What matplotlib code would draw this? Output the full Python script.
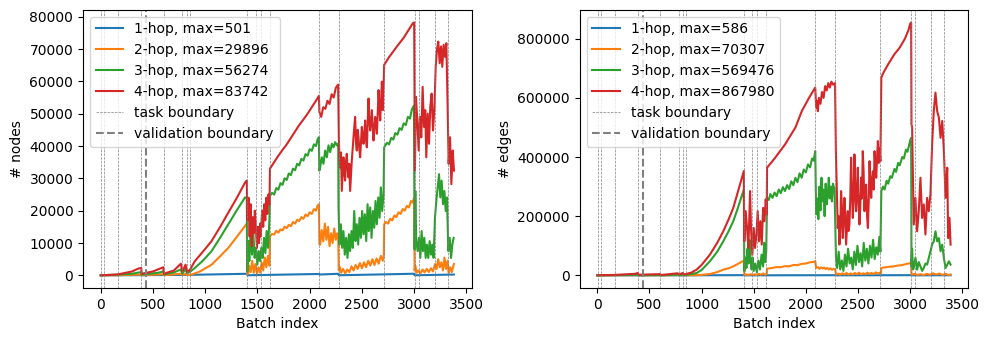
import numpy as np
import matplotlib
matplotlib.use("Agg")
import matplotlib.pyplot as plt

# task / validation boundaries (batch index)
task_bounds = [3, 32, 166, 390, 605, 782, 825, 854, 1402, 1483, 1530, 1622,
               2092, 2276, 2715, 3004, 3045, 3200, 3327]
val_bound = 434

# ---- nodes (left panel), (batch, value) ----
nodes_1hop = [(0, 0), (400, 60), (850, 150), (1400, 480), (1403, 20), (1620, 150),
              (2090, 420), (2093, 250), (2275, 480), (2278, 30), (2713, 300),
              (3000, 501), (3004, 20), (3380, 250)]

nodes_2hop = [(0, 0), (160, 40), (380, 250), (392, 30), (595, 350), (606, 40), (770, 500),
              (782, 100), (815, 450), (826, 80), (855, 150), (870, 250), (950, 1200),
              (1061, 3300), (1140, 5800), (1221, 8500), (1300, 11800), (1398, 16000),
              (1403, 300), (1410, 500), (1420, 3000), (1435, 1000), (1450, 4500), (1465, 800),
              (1480, 3500), (1495, 600), (1510, 2500), (1525, 800), (1540, 4000), (1555, 1500),
              (1570, 5500), (1585, 2500), (1600, 6000), (1615, 3000),
              (1620, 12100), (1640, 12800), (1660, 12600), (1680, 13800), (1700, 13200),
              (1720, 14200), (1740, 13900), (1760, 15000), (1780, 14600), (1800, 15600),
              (1820, 15200), (1840, 16500), (1860, 16000), (1880, 17200), (1900, 16800),
              (1920, 18000), (1940, 17500), (1960, 18800), (1980, 18300), (2000, 19500),
              (2020, 19000), (2040, 20500), (2060, 20000), (2075, 21500), (2088, 22000),
              (2093, 9500), (2100, 9500), (2115, 14000), (2130, 10500), (2145, 16000),
              (2160, 11000), (2175, 15000), (2190, 9000), (2205, 13000), (2220, 10000),
              (2235, 14500), (2250, 11000), (2265, 13000), (2273, 12000),
              (2278, 1500), (2290, 2500), (2300, 800), (2320, 2000), (2340, 600), (2360, 1800),
              (2380, 1000), (2400, 2800), (2420, 1500), (2440, 3200), (2460, 2000), (2480, 3800),
              (2500, 2200), (2520, 4000), (2540, 2500), (2560, 4500), (2580, 3000), (2600, 5000),
              (2620, 3200), (2640, 5200), (2660, 3600), (2680, 6000), (2700, 4500), (2710, 6500),
              (2713, 15800), (2730, 16500), (2750, 16000), (2770, 17500), (2790, 17000),
              (2810, 18500), (2830, 18000), (2850, 19500), (2870, 19000), (2890, 20500),
              (2910, 20000), (2930, 21500), (2950, 21000), (2970, 23000), (2985, 22500),
              (3000, 24000),
              (3004, 1500), (3010, 3000), (3025, 800), (3040, 1500), (3060, 600), (3080, 1800),
              (3100, 900), (3120, 2000), (3140, 1000), (3160, 2200), (3180, 1200), (3200, 3500),
              (3215, 2000), (3230, 5000), (3245, 2500), (3260, 4000), (3275, 1500), (3290, 5500),
              (3305, 2000), (3320, 4500), (3330, 800), (3345, 2500), (3360, 1000), (3380, 3500)]

nodes_3hop = [(0, 0), (30, 50), (165, 200), (300, 500), (385, 1000), (392, 200), (550, 800),
              (600, 1200), (607, 300), (700, 900), (765, 1800), (782, 500), (810, 2000),
              (826, 700), (855, 1100), (901, 2300), (980, 4600), (1061, 7500), (1140, 11500),
              (1221, 15800), (1300, 20000), (1381, 24100), (1398, 24000),
              (1403, 1200), (1413, 10600), (1422, 4400), (1435, 14000), (1448, 6400),
              (1461, 12700), (1473, 5400), (1486, 8500), (1499, 3300), (1512, 7500),
              (1525, 4400), (1537, 8500), (1550, 5400), (1563, 11600), (1576, 6900),
              (1588, 13700), (1601, 8500), (1614, 16800),
              (1620, 24600), (1640, 25500), (1660, 25000), (1680, 27000), (1700, 26500),
              (1720, 28500), (1740, 28000), (1760, 30000), (1780, 29500), (1800, 31500),
              (1820, 31000), (1840, 33000), (1860, 32500), (1880, 34500), (1900, 34000),
              (1920, 36000), (1940, 35500), (1960, 37500), (1980, 37000), (2000, 39000),
              (2020, 38500), (2040, 40500), (2060, 40000), (2075, 42000), (2088, 42700),
              (2092, 32400), (2100, 33400), (2116, 36500), (2132, 34500), (2148, 38600),
              (2164, 36500), (2180, 40200), (2196, 38100), (2212, 40700), (2228, 39600),
              (2244, 41200), (2260, 40200), (2273, 40700),
              (2276, 21000), (2285, 9500), (2298, 15800), (2311, 8500), (2323, 13700),
              (2336, 6400), (2349, 11600), (2362, 5400), (2375, 12700), (2387, 7500),
              (2400, 13700), (2413, 8500), (2426, 19900), (2439, 10600), (2451, 15800),
              (2464, 9500), (2477, 17800), (2490, 11600), (2502, 19900), (2515, 12700),
              (2528, 18900), (2541, 10600), (2554, 22000), (2566, 13700), (2579, 21000),
              (2592, 11600), (2605, 19900), (2618, 14700), (2630, 23000), (2643, 15800),
              (2656, 24100), (2669, 17800), (2681, 27200), (2694, 19900), (2707, 25100),
              (2713, 39600), (2740, 41000), (2760, 40500), (2780, 42500), (2800, 42000),
              (2820, 44000), (2840, 43500), (2860, 45500), (2880, 45000), (2900, 47000),
              (2920, 46500), (2940, 49000), (2960, 48500), (2980, 51500), (2998, 52500),
              (3004, 8000), (3011, 26100), (3020, 10600), (3033, 7500), (3046, 11600),
              (3059, 5400), (3071, 13700), (3084, 7500), (3097, 11600), (3110, 5400),
              (3122, 9500), (3135, 5400), (3148, 10600), (3161, 6400), (3174, 9500),
              (3186, 5400), (3199, 17800), (3212, 23000), (3225, 27200), (3238, 31300),
              (3250, 24100), (3263, 29300), (3276, 22000), (3289, 26100), (3302, 19900),
              (3314, 24100), (3327, 7500), (3340, 11600), (3353, 5400), (3365, 9500),
              (3378, 11600)]

nodes_4hop = [(0, 0), (30, 50), (165, 300), (300, 1200), (360, 2100), (388, 2300), (392, 500),
              (500, 1200), (598, 2500), (605, 500), (700, 1500), (767, 3600), (780, 1200),
              (812, 3300), (826, 1000), (855, 1800), (901, 4400), (980, 7400), (1061, 10600),
              (1140, 14800), (1221, 19400), (1300, 23800), (1381, 28700), (1398, 29300),
              (1403, 17000), (1415, 24000), (1425, 12000), (1435, 22000), (1445, 9000),
              (1455, 18000), (1465, 13000), (1475, 20000), (1486, 14000), (1495, 8500),
              (1505, 15000), (1515, 10000), (1525, 16000), (1531, 12000), (1545, 20000),
              (1555, 15000), (1565, 22000), (1575, 17000), (1585, 24000), (1595, 19000),
              (1605, 25000), (1615, 22000),
              (1620, 33000), (1660, 35000), (1700, 37000), (1740, 38800), (1780, 40500),
              (1820, 42500), (1860, 44500), (1900, 46500), (1940, 48200), (1980, 50000),
              (2020, 52000), (2060, 54000), (2088, 55500),
              (2093, 50500), (2110, 49000), (2130, 52000), (2150, 51500), (2170, 54000),
              (2190, 53000), (2210, 56000), (2230, 55000), (2250, 58000), (2272, 59000),
              (2279, 42700), (2285, 36000), (2292, 33400), (2300, 38000), (2307, 26100),
              (2315, 31000), (2323, 36500), (2331, 32000), (2339, 29300), (2347, 35000),
              (2355, 37600), (2363, 33000), (2371, 30300), (2379, 34500), (2387, 26100),
              (2395, 31000), (2403, 35500), (2411, 39000), (2419, 42700), (2427, 46000),
              (2435, 49000), (2443, 41000), (2451, 38600), (2459, 45000), (2467, 42700),
              (2475, 39000), (2483, 36500), (2491, 41000), (2499, 45900), (2507, 43000),
              (2515, 40700), (2523, 44000), (2531, 47900), (2539, 42000), (2547, 39600),
              (2555, 47000), (2563, 54700), (2571, 48000), (2579, 44800), (2587, 47500),
              (2595, 51100), (2603, 46000), (2611, 41700), (2619, 45500), (2627, 49000),
              (2635, 47000), (2643, 43800), (2651, 50000), (2659, 57300), (2667, 52000),
              (2675, 47900), (2683, 54000), (2691, 59900), (2696, 54000), (2700, 51100),
              (2705, 57000), (2710, 61400),
              (2713, 65100), (2760, 67500), (2835, 70800), (2900, 73500), (2988, 78000),
              (3000, 78200),
              (3007, 32400), (3017, 55200), (3030, 47900), (3043, 38600), (3055, 49000),
              (3068, 42700), (3081, 58300), (3094, 45900), (3106, 51100), (3116, 36500),
              (3129, 50000), (3142, 40700), (3154, 52100), (3167, 56200), (3180, 44800),
              (3193, 51100), (3206, 64500), (3218, 69700), (3231, 72300), (3244, 65600),
              (3257, 70800), (3269, 64500), (3282, 71300), (3295, 67600), (3308, 71800),
              (3321, 51100), (3330, 34500), (3343, 42700), (3356, 28200), (3369, 38600),
              (3381, 32400)]

# ---- edges (right panel), (batch, value) ----
edges_1hop = [(0, 0), (850, 100), (1400, 580), (1410, 30), (2090, 400), (2099, 200),
              (2285, 500), (2289, 20), (3010, 586), (3013, 20), (3388, 300)]

edges_2hop = [(0, 0), (390, 800), (395, 100), (600, 600), (610, 100), (780, 1200), (785, 200),
              (855, 500), (950, 800), (1000, 1500), (1080, 4500), (1150, 11000), (1208, 19300),
              (1260, 24000), (1304, 30500), (1350, 39000), (1405, 49800),
              (1410, 1500), (1430, 3000), (1450, 1000), (1470, 4000), (1490, 1500), (1510, 3500),
              (1530, 1000), (1550, 5000), (1570, 2000), (1590, 6000), (1610, 2500), (1625, 5000),
              (1628, 22600), (1680, 25000), (1720, 28000), (1760, 27500), (1800, 31000),
              (1840, 30500), (1880, 35000), (1920, 34500), (1960, 39000), (2000, 40000),
              (2040, 44000), (2070, 45000), (2090, 47500),
              (2099, 25000), (2115, 28000), (2130, 22000), (2145, 27000), (2160, 23000),
              (2175, 26500), (2190, 21000), (2205, 25000), (2220, 20000), (2235, 24000),
              (2250, 19000), (2265, 22000), (2282, 19000),
              (2289, 3000), (2310, 6000), (2330, 2000), (2350, 7000), (2370, 3000), (2390, 8000),
              (2410, 2500), (2430, 6500), (2450, 3000), (2470, 8000), (2490, 4000), (2510, 9000),
              (2530, 3500), (2550, 7000), (2570, 4000), (2590, 9000), (2610, 5000), (2630, 8000),
              (2650, 4500), (2670, 10000), (2690, 6000), (2710, 9000), (2720, 7000),
              (2724, 25000), (2760, 27000), (2800, 29000), (2840, 30000), (2880, 33000),
              (2920, 34500), (2960, 38000), (3010, 41800),
              (3013, 2000), (3040, 5000), (3070, 1500), (3100, 4000), (3130, 1000), (3160, 5000),
              (3190, 2000), (3220, 7000), (3250, 2500), (3280, 6000), (3310, 1500), (3340, 5000),
              (3370, 1000), (3388, 3000)]

edges_3hop = [(0, 0), (390, 1500), (395, 300), (600, 1000), (610, 200), (780, 2500), (785, 500),
              (855, 1500), (952, 7900), (1000, 18000), (1080, 47500), (1150, 80000),
              (1208, 115000), (1260, 150000), (1304, 183000), (1350, 230000), (1405, 290000),
              (1410, 14000), (1420, 60000), (1430, 25000), (1440, 90000), (1450, 40000),
              (1460, 120000), (1470, 50000), (1480, 20000), (1490, 60000), (1500, 15000),
              (1515, 40000), (1530, 10000), (1545, 50000), (1560, 20000), (1575, 70000),
              (1590, 30000), (1600, 110000), (1610, 45000), (1620, 80000),
              (1628, 262000), (1645, 255000), (1660, 275000), (1680, 262000), (1700, 280000),
              (1720, 268000), (1740, 290000), (1760, 278000), (1780, 298000), (1800, 285000),
              (1820, 305000), (1840, 292000), (1860, 318000), (1880, 305000), (1900, 330000),
              (1920, 315000), (1940, 345000), (1960, 330000), (1980, 358000), (2000, 348000),
              (2020, 375000), (2040, 365000), (2060, 395000), (2075, 388000), (2090, 420000),
              (2099, 206000), (2110, 260000), (2120, 190000), (2130, 300000), (2140, 220000),
              (2150, 330000), (2160, 250000), (2170, 290000), (2180, 200000), (2190, 310000),
              (2200, 240000), (2210, 270000), (2220, 330000), (2230, 260000), (2240, 300000),
              (2250, 250000), (2260, 310000), (2275, 290000),
              (2289, 60000), (2300, 25000), (2315, 80000), (2330, 20000), (2345, 50000),
              (2360, 15000), (2375, 70000), (2390, 30000), (2405, 90000), (2420, 40000),
              (2435, 60000), (2450, 20000), (2465, 80000), (2480, 35000), (2495, 100000),
              (2510, 45000), (2525, 75000), (2540, 30000), (2555, 110000), (2570, 50000),
              (2585, 90000), (2600, 40000), (2615, 100000), (2630, 60000), (2645, 120000),
              (2660, 55000), (2675, 95000), (2690, 70000), (2705, 130000), (2715, 80000),
              (2724, 285000), (2740, 300000), (2755, 290000), (2775, 320000), (2790, 310000),
              (2810, 335000), (2825, 330000), (2850, 360000), (2865, 350000), (2885, 380000),
              (2900, 372000), (2925, 400000), (2940, 395000), (2960, 425000), (2975, 418000),
              (3000, 455000), (3010, 465000),
              (3013, 30000), (3019, 90000), (3027, 20000), (3035, 24900), (3051, 60000),
              (3067, 19200), (3083, 45000), (3099, 30500), (3115, 15000), (3131, 24900),
              (3147, 40000), (3163, 36200), (3179, 58700), (3195, 81400), (3211, 104000),
              (3227, 115000), (3243, 149000), (3259, 115000), (3276, 126000), (3292, 81400),
              (3308, 104000), (3324, 58700), (3340, 24900), (3356, 36200), (3372, 47500),
              (3388, 36200)]

edges_4hop = [(0, 0), (165, 1500), (360, 5000), (390, 8000), (395, 2000), (600, 4000),
              (610, 1000), (770, 7000), (785, 3000), (820, 8000), (826, 3000), (855, 5000),
              (900, 9000), (952, 19300), (1000, 35000), (1080, 70200), (1150, 110000),
              (1208, 149000), (1260, 190000), (1304, 228000), (1350, 285000), (1405, 352600),
              (1410, 115000), (1423, 217000), (1436, 160000), (1449, 92600), (1465, 285000),
              (1474, 160000), (1487, 70000), (1500, 160000), (1513, 92600), (1526, 138000),
              (1538, 217000), (1551, 115000), (1564, 183000), (1577, 104000), (1590, 228000),
              (1603, 183000), (1615, 257000), (1625, 206000),
              (1628, 364000), (1700, 395000), (1801, 443000), (1900, 500000), (1962, 556000),
              (2030, 600000), (2090, 635000),
              (2099, 567000), (2105, 590000), (2115, 555000), (2125, 600000), (2140, 580000),
              (2155, 620000), (2170, 600000), (2185, 640000), (2200, 625000), (2215, 650000),
              (2230, 635000), (2245, 655000), (2260, 645000), (2280, 650000),
              (2288, 418000), (2294, 330000), (2300, 250000), (2306, 160000), (2314, 200000),
              (2322, 104000), (2330, 150000), (2338, 285000), (2346, 230000), (2354, 126000),
              (2362, 180000), (2370, 262000), (2378, 200000), (2386, 104000), (2394, 160000),
              (2402, 217000), (2410, 150000), (2418, 172000), (2426, 260000), (2434, 398000),
              (2442, 300000), (2450, 194000), (2458, 250000), (2466, 409000), (2474, 300000),
              (2482, 217000), (2490, 280000), (2498, 364000), (2506, 250000), (2514, 172000),
              (2522, 230000), (2530, 330000), (2538, 260000), (2546, 420000), (2554, 350000),
              (2562, 217000), (2570, 280000), (2578, 307000), (2587, 200000), (2595, 160000),
              (2603, 250000), (2611, 386000), (2619, 300000), (2627, 262000), (2635, 330000),
              (2643, 352000), (2651, 290000), (2659, 420000), (2667, 360000), (2675, 330000),
              (2683, 400000), (2691, 454000), (2699, 380000), (2707, 430000), (2715, 386000),
              (2724, 669000), (2745, 686000), (2790, 714000), (2850, 748000), (2900, 770000),
              (2950, 800000), (2985, 830000), (3000, 850000), (3010, 855000),
              (3013, 511000), (3019, 499000), (3035, 172000), (3051, 262000), (3067, 149000),
              (3083, 217000), (3099, 330000), (3115, 194000), (3131, 240000), (3147, 138000),
              (3163, 262000), (3179, 217000), (3195, 274000), (3211, 443000), (3227, 556000),
              (3243, 618000), (3259, 556000), (3276, 533000), (3292, 465000), (3308, 522000),
              (3324, 420000), (3340, 262000), (3356, 364000), (3365, 126000), (3378, 194000),
              (3388, 104000)]

node_series = [nodes_1hop, nodes_2hop, nodes_3hop, nodes_4hop]
edge_series = [edges_1hop, edges_2hop, edges_3hop, edges_4hop]
node_max = [501, 29896, 56274, 83742]
edge_max = [586, 70307, 569476, 867980]


def draw(ax, series, maxes, ylabel):
    for i, s in enumerate(series):
        arr = np.array(s, dtype=float)
        ax.plot(arr[:, 0], arr[:, 1], label=f"{i + 1}-hop, max={maxes[i]}")
    for j, b in enumerate(task_bounds):
        ax.axvline(b, color="gray", linestyle="--", linewidth=0.5,
                   label="task boundary" if j == 0 else None)
    ax.axvline(val_bound, color="gray", linestyle="--", linewidth=1.5,
               label="validation boundary")
    ax.set_xlabel("Batch index")
    ax.set_ylabel(ylabel)
    ax.legend(loc="upper left")


fig, (ax1, ax2) = plt.subplots(1, 2, figsize=(9.89, 3.4), dpi=100)
draw(ax1, node_series, node_max, "# nodes")
draw(ax2, edge_series, edge_max, "# edges")
fig.subplots_adjust(left=0.084, right=0.979, top=0.971, bottom=0.153, wspace=0.278)
plt.savefig("out.png", dpi=100)
